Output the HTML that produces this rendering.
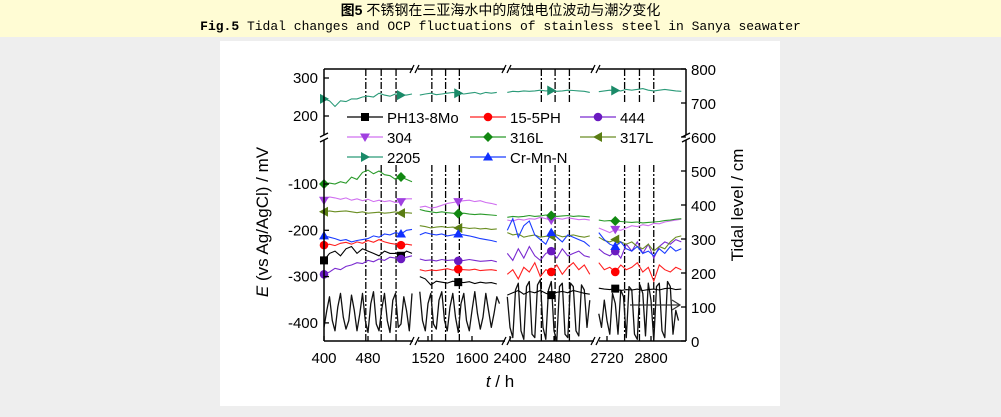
<!DOCTYPE html>
<html><head><meta charset="utf-8"><style>
body{margin:0;width:1001px;height:417px;background:#eeeeee;overflow:hidden;font-family:"Liberation Sans",Arial,sans-serif}
#band{position:absolute;left:0;top:0;width:1001px;height:37px;background:#fffcd4}
#t1{position:absolute;left:0;top:0px;width:1001px;text-align:center;font-size:14px;font-family:"Liberation Sans","Noto Sans CJK SC",sans-serif;color:#000}
#t2{position:absolute;left:0;top:19px;width:1001px;text-align:center;font-size:13px;font-family:"Liberation Mono",monospace;color:#000}
#panel{position:absolute;left:220px;top:41px;width:560px;height:365px;background:#fff}
svg{position:absolute;left:0;top:0}
</style></head><body>
<div id="band"></div>
<div id="t1"><b>图5</b> 不锈钢在三亚海水中的腐蚀电位波动与潮汐变化</div>
<div id="t2"><b>Fig.5</b> Tidal changes and OCP fluctuations of stainless steel in Sanya seawater</div>
<div id="panel"></div>
<svg id="chart" width="1001" height="417"></svg>
<script>
const segStarts=[400,1505,2395,2705];
const tideStarts=[400,1505,2395,2705];
const xTickLabels=[[400,480],[1520,1600],[2400,2480],[2720,2800]];
const leftTicksUpper=[300,200];
const leftTicksLower=[-100,-200,-300,-400];
const rightTicks=[0,100,200,300,400,500,600,700,800];
const tide1=[40,90,130,60,30,100,140,70,35,60,135,90,30,80,140,60,25,110,145,50,30,95,140,60,25,120,140,40,50,130,90,30,140];
const tide2=[145,60,30,110,140,50,35,120,145,60,30,100,140,70,25,110,140,60,30,90,145,80,35,70,140,90,40,80,130,110];
const tide3=[130,40,10,150,170,30,5,160,175,20,10,165,180,40,5,150,175,30,0,160,170,20,10,170,160,30,15,165,150,40,120];
const tide4=[80,40,120,60,20,140,110,20,150,130,10,160,150,20,5,165,140,15,170,120,0,160,170,30,10,175,160,20,90,60];
const tideSeries=[tide1,tide2,tide3,tide4];
const seriesNames=["PH13-8Mo","15-5PH","444","304","316L","317L","2205","Cr-Mn-N"];
const ph13=[[-265,-250,-245,-255,-240,-235,-250,-240,-245,-250,-255,-245,-250,-250,-255,-245,-250],[-300,-305,-318,-310,-312,-314,-310,-312,-313,-311,-315,-312,-314,-313,-316],[-340,-335,-330,-338,-332,-335,-330,-336,-340,-334,-332,-335,-330,-333,-336,-338],[-325,-327,-328,-326,-330,-328,-329,-327,-330,-328,-327,-329,-326,-325,-328,-327]];
const ph155=[[-232,-230,-233,-228,-226,-230,-225,-228,-222,-226,-220,-225,-228,-230,-232,-230,-232],[-285,-288,-286,-287,-285,-283,-286,-284,-285,-286,-284,-287,-286,-285,-287],[-295,-285,-305,-280,-290,-270,-300,-285,-290,-275,-295,-280,-270,-285,-275,-295],[-270,-285,-280,-290,-275,-285,-280,-270,-290,-280,-310,-275,-285,-290,-280,-285]];
const s444=[[-295,-290,-282,-285,-278,-275,-270,-272,-265,-268,-262,-265,-258,-260,-262,-258,-255],[-262,-265,-264,-266,-263,-265,-264,-266,-265,-263,-265,-267,-266,-265,-268],[-250,-265,-240,-260,-235,-255,-265,-250,-245,-260,-240,-255,-250,-245,-255,-258],[-240,-250,-255,-245,-260,-230,-245,-225,-250,-230,-260,-235,-225,-230,-220,-225]];
const s304=[[-135,-128,-130,-133,-130,-135,-132,-136,-133,-138,-135,-138,-136,-140,-138,-132,-132],[-150,-148,-152,-150,-146,-142,-140,-138,-136,-135,-138,-136,-140,-142,-145],[-178,-180,-176,-178,-175,-176,-172,-175,-178,-174,-176,-173,-175,-177,-176,-178],[-195,-200,-205,-198,-200,-195,-190,-192,-188,-190,-185,-186,-182,-180,-178,-176]];
const s316=[[-100,-98,-100,-95,-98,-85,-90,-75,-70,-78,-72,-80,-82,-90,-85,-90,-95],[-155,-158,-160,-162,-160,-162,-163,-164,-163,-165,-166,-165,-166,-167,-168],[-172,-170,-171,-170,-168,-170,-169,-167,-168,-170,-169,-168,-170,-169,-170,-171],[-178,-180,-179,-180,-181,-182,-183,-182,-184,-183,-182,-181,-179,-178,-176,-175]];
const s317=[[-160,-158,-160,-159,-158,-160,-162,-160,-163,-162,-161,-163,-162,-160,-163,-162,-163],[-190,-192,-195,-193,-192,-194,-193,-195,-194,-196,-195,-197,-196,-198,-197],[-205,-210,-208,-215,-212,-210,-215,-213,-212,-210,-214,-212,-210,-213,-215,-212],[-215,-222,-225,-220,-225,-230,-225,-235,-240,-230,-245,-235,-240,-225,-215,-212]];
const s2205=[[245,240,225,240,238,245,245,250,252,250,260,255,252,258,255,255,258],[255,258,260,256,258,260,262,260,258,260,262,258,262,260,262],[262,265,264,266,265,266,268,266,267,265,266,268,267,266,265,262],[264,266,268,267,266,270,268,270,272,268,266,268,270,268,266,265]];
const crmnn=[[-212,-215,-218,-222,-220,-225,-222,-220,-218,-212,-215,-208,-210,-205,-208,-200,-198],[-210,-205,-208,-210,-208,-212,-210,-208,-210,-212,-215,-218,-220,-222,-225],[-200,-175,-215,-190,-180,-210,-220,-230,-205,-215,-225,-210,-215,-220,-225,-235],[-205,-220,-230,-235,-225,-240,-245,-235,-250,-245,-255,-240,-250,-235,-245,-240]];
const seriesData=[ph13,ph155,s444,s304,s316,s317,s2205,crmnn];
const markerIdx=[14,7,8,3];
const tideLineHours=[[476,504,531],[1527,1552,1577],[2457,2482,2508],[2752,2779,2805]];

const colors=["#000000","#ff2020","#7a2ad0","#d070f0","#2a9a2a","#6b8e23","#2a9a78","#1a3cff"];
const mcolors=["#000","#ff0000","#6a1ac0","#a040e0","#118811","#5a7d13","#1a8a68","#1030ff"];
const shapes=["sq","ci","ci","tdown","dia","tleft","tright","tup"];
const PX=0.55;
const segX0=[324,428-15*PX,510-5*PX,607-15*PX];
const segH0=[400,1505,2395,2705];
const L=324,R=686,T=69,B=341;
function xS(s,h){return segX0[s]+(h-segH0[s])*PX;}
function yE(v){return v>=150?78+(300-v)*0.38:184+(-100-v)*0.463;}
function yT(c){return B-c*0.34;}
const svg=document.getElementById('chart');
const NS="http://www.w3.org/2000/svg";
function mk(tag,attrs,parent){const e=document.createElementNS(NS,tag);for(const k in attrs)e.setAttribute(k,attrs[k]);(parent||svg).appendChild(e);return e;}
function txt(x,y,s,attrs,parent){const e=mk('text',Object.assign({x:x,y:y,'font-size':15,'font-family':'Liberation Sans, Arial, sans-serif',fill:'#000'},attrs||{}),parent);e.textContent=s;return e;}
function marker(x,y,sh,c,g){
 let e;
 if(sh=="sq")e=mk('rect',{x:x-4,y:y-4,width:8,height:8,fill:c},g);
 else if(sh=="ci")e=mk('circle',{cx:x,cy:y,r:4.3,fill:c},g);
 else if(sh=="dia")e=mk('polygon',{points:`${x},${y-5} ${x+5},${y} ${x},${y+5} ${x-5},${y}`,fill:c},g);
 else if(sh=="tdown")e=mk('polygon',{points:`${x-5},${y-3.5} ${x+5},${y-3.5} ${x},${y+5}`,fill:c},g);
 else if(sh=="tup")e=mk('polygon',{points:`${x-5},${y+3.5} ${x+5},${y+3.5} ${x},${y-5}`,fill:c},g);
 else if(sh=="tleft")e=mk('polygon',{points:`${x+4},${y-5} ${x+4},${y+5} ${x-5},${y}`,fill:c},g);
 else e=mk('polygon',{points:`${x-4},${y-5} ${x-4},${y+5} ${x+5},${y}`,fill:c},g);
 
 
}
tideLineHours.forEach((hs,s)=>hs.forEach(h=>{
 const x=xS(s,h);
 [[T,104],[165,B]].forEach(([a,b])=>{
  const l=mk('line',{x1:x,x2:x,y1:a,y2:b,stroke:'#000','stroke-width':1.3,'stroke-dasharray':'7,2,2,2'});
  
  
 });
}));
tideSeries.forEach((arr,s)=>{
 const pts=arr.map((c,i)=>xS(s,tideStarts[s]+i*5).toFixed(1)+','+yT(c).toFixed(1)).join(' ');
 const p=mk('polyline',{points:pts,fill:'none',stroke:'#111','stroke-width':1.3,'stroke-linejoin':'round'});
 
 
});
seriesData.forEach((segs,k)=>{
 const g=mk('g',{});
 
 
 segs.forEach((arr,s)=>{
  const pts=arr.map((v,i)=>xS(s,segStarts[s]+i*10).toFixed(1)+','+yE(v).toFixed(1)).join(' ');
  const p=mk('polyline',{points:pts,fill:'none',stroke:colors[k],'stroke-width':1.1},g);
  
  
  const mi=markerIdx[s];
  marker(xS(s,segStarts[s]+mi*10),yE(arr[mi]),shapes[k],mcolors[k],g);
  if(s==0)marker(xS(0,segStarts[0]),yE(arr[0]),shapes[k],mcolors[k],g);
 });
});
const ar=mk('line',{x1:630,x2:680,y1:305,y2:305,stroke:'#333','stroke-width':1.2});


const ah=mk('polyline',{points:'672,300 680,305 672,310',fill:'none',stroke:'#333','stroke-width':1.2});


const fr=mk('path',{d:`M${L},${T}H413 M418,${T}H505 M510,${T}H594 M599,${T}H${R} M${L},${B}H413 M418,${B}H505 M510,${B}H594 M599,${B}H${R} M${L},${T}V135 M${L},140V${B} M${R},${T}V135 M${R},140V${B}`,stroke:'#000','stroke-width':1.5,fill:'none'});


const br=mk('path',{d:`M410,${T+4}L414,${T-4} M415,${T+4}L419,${T-4} M502,${T+4}L506,${T-4} M507,${T+4}L511,${T-4} M591,${T+4}L595,${T-4} M596,${T+4}L600,${T-4} M410,${B+4}L414,${B-4} M415,${B+4}L419,${B-4} M502,${B+4}L506,${B-4} M507,${B+4}L511,${B-4} M591,${B+4}L595,${B-4} M596,${B+4}L600,${B-4} M${L-4},137L${L+4},133 M${L-4},142L${L+4},138 M${R-4},137L${R+4},133 M${R-4},142L${R+4},138`,stroke:'#000','stroke-width':1.3,fill:'none'});


leftTicksUpper.concat(leftTicksLower).forEach(v=>{
 const y=yE(v);
 mk('line',{x1:L,x2:L+5,y1:y,y2:y,stroke:'#000','stroke-width':1.3});
 const t=txt(L-6,y+5,String(v),{'text-anchor':'end'});
 
 
});
rightTicks.forEach(c=>{
 const y=yT(c);
 mk('line',{x1:R-5,x2:R,y1:y,y2:y,stroke:'#000','stroke-width':1.3});
 const t=txt(R+5,y+6,String(c),{});
 
 
});
xTickLabels.forEach((hs,s)=>hs.forEach(h=>{
 const x=xS(s,h);
 mk('line',{x1:x,x2:x,y1:B,y2:B-5,stroke:'#000','stroke-width':1.3});
 const t=txt(x,B+22,String(h),{'text-anchor':'middle'});
 
 
}));
const yl=txt(0,0,'',{'font-size':17,'text-anchor':'middle',transform:'translate(268,222) rotate(-90)'});
yl.innerHTML='<tspan font-style="italic">E</tspan> (vs Ag/AgCl) / mV';


const yr=txt(0,0,'Tidal level / cm',{'font-size':17,'text-anchor':'middle',transform:'translate(743,205) rotate(-90)'});


const xl=txt(500,387,'',{'font-size':17,'text-anchor':'middle'});
xl.innerHTML='<tspan font-style="italic">t</tspan> / h';


const lx=[347,470,580],ly=[117,137,157];
seriesNames.forEach((n,k)=>{
 const col=k%3,row=Math.floor(k/3);
 const g=mk('g',{});
 
 
 const x=lx[col],y=ly[row];
 mk('line',{x1:x,x2:x+36,y1:y,y2:y,stroke:colors[k],'stroke-width':1.3},g);
 marker(x+18,y,shapes[k],mcolors[k],g);
 txt(x+40,y+6,n,{},g);
});
</script>
</body></html>
